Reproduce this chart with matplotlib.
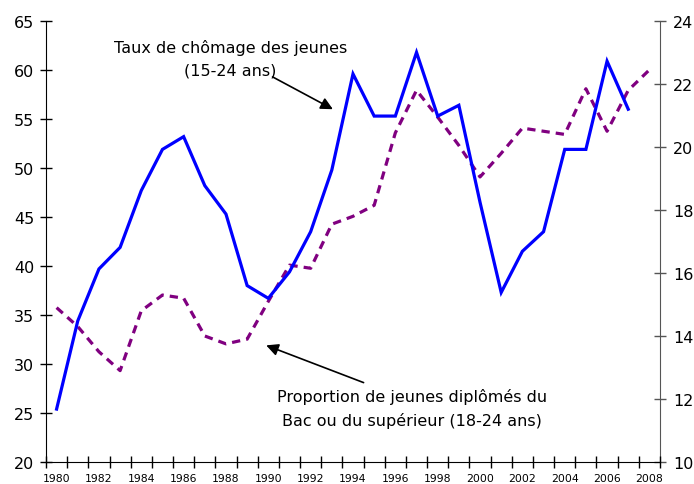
import matplotlib
matplotlib.use('Agg')
import matplotlib.pyplot as plt
import numpy as np

# Donnees
annees = list(range(1980, 2009))
chomage_annees = list(range(1980, 2008))
chomage = [25.4, 34.4, 39.7, 41.9, 47.7, 51.9, 53.2, 48.2, 45.3, 38.0,
           36.7, 39.4, 43.5, 49.8, 59.6, 55.3, 55.3, 61.8, 55.3, 56.4,
           46.5, 37.3, 41.5, 43.5, 51.9, 51.9, 60.9, 56.0]
diplomes = [14.9, 14.3, 13.5, 12.9, 14.8, 15.3, 15.2, 14.0, 13.75, 13.9,
            15.1, 16.25, 16.15, 17.55, 17.8, 18.15, 20.45, 21.8, 20.95, 20.05,
            19.05, 19.8, 20.6, 20.5, 20.4, 21.85, 20.5, 21.8, 22.45]
labels_x = [str(a) for a in range(1980, 2009, 2)]

plt.rcParams['font.family'] = ['DejaVu Sans']

fig = plt.figure(figsize=(6.94, 4.85), dpi=100)
ax = fig.add_axes([0.0663, 0.0454, 0.8847, 0.9092])
ax2 = ax.twinx()

ax.plot(chomage_annees, chomage, color='#0000FF', lw=2.3, solid_joinstyle='miter', zorder=3)
ax2.plot(annees, diplomes, color='#800080', lw=2.3, dashes=(2.6, 1.9), zorder=2)

ax.set_xlim(1979.5, 2008.5)
ax.set_ylim(20, 65)
ax2.set_ylim(10, 24)
ax.set_yticks(range(20, 66, 5))
ax2.set_yticks(range(10, 25, 2))

# ticks aux limites des categories, libelles au centre
ax.set_xticks(np.arange(1979.5, 2009, 1))
ax.set_xticklabels([])
ax.set_xticks(range(1980, 2009, 2), minor=True)
ax.set_xticklabels(labels_x, minor=True, fontsize=7.8)
ax.tick_params(axis='x', which='major', direction='inout', length=8, width=1)
ax.tick_params(axis='x', which='minor', length=0, pad=8)
ax.tick_params(axis='y', direction='inout', length=9, width=1, labelsize=11.5, pad=4)
ax2.tick_params(axis='y', direction='inout', length=9, width=1, labelsize=11.5, pad=5,
                color='#555555')

for a in (ax, ax2):
    a.spines['top'].set_visible(False)
ax.spines['right'].set_visible(False)
ax2.spines['left'].set_visible(False)
ax2.spines['bottom'].set_visible(False)
ax2.spines['right'].set_color('#555555')

ax.set_zorder(ax2.get_zorder() + 1)
ax.patch.set_visible(False)

# Annotations
fleche = dict(arrowstyle='-|>', color='black', lw=1.2, mutation_scale=18, shrinkA=0, shrinkB=0)
ax.text(1988.2, 61.2, 'Taux de chômage des jeunes\n(15-24 ans)', ha='center', va='center',
        fontsize=11.5, linespacing=1.6)
ax.annotate('', xy=(1993.05, 56.0), xytext=(1990.2, 59.3), arrowprops=fleche)
ax.text(1996.8, 25.5, 'Proportion de jeunes diplômés du\nBac ou du supérieur (18-24 ans)',
        ha='center', va='center', fontsize=11.5, linespacing=1.6)
ax.annotate('', xy=(1989.9, 31.9), xytext=(1994.5, 28.1), arrowprops=fleche)

plt.savefig('out.png', dpi=100)
